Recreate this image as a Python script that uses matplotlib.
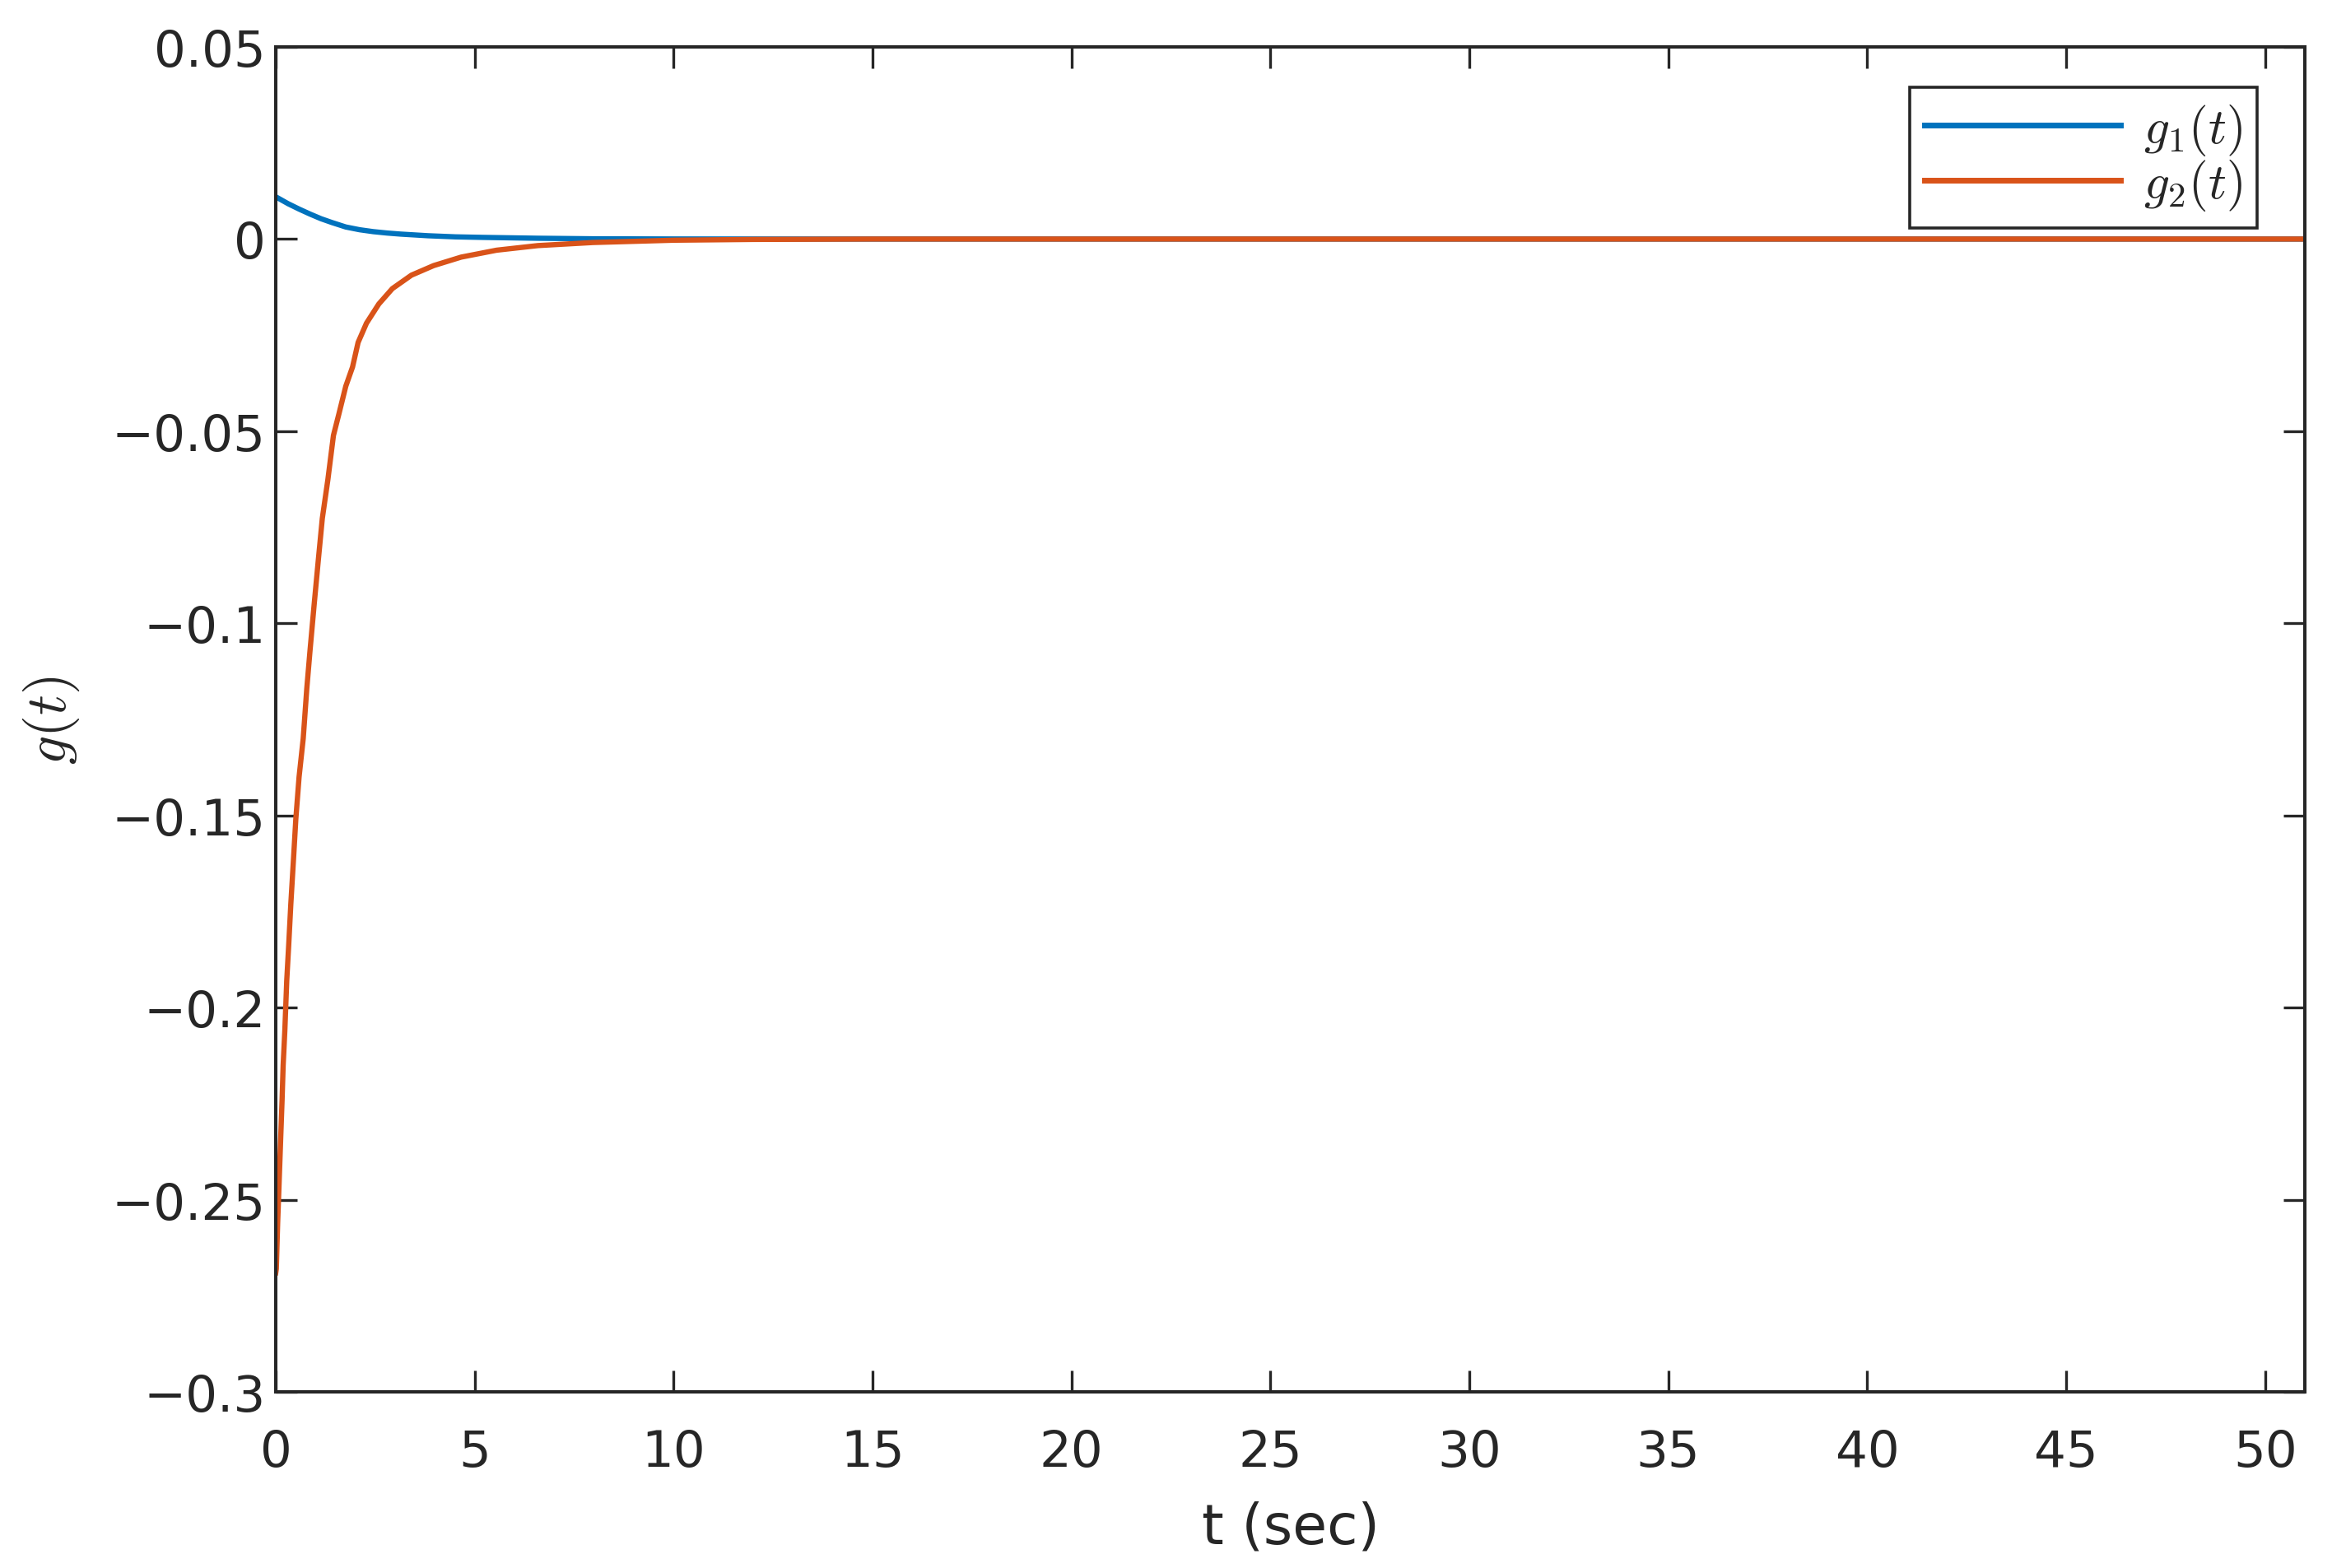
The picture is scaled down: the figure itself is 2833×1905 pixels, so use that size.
import matplotlib
matplotlib.use("Agg")
import matplotlib.pyplot as plt

plt.rcParams['font.family'] = ['DejaVu Sans']
plt.rcParams['mathtext.fontset'] = 'cm'
plt.rcParams['axes.unicode_minus'] = True

# ---- data ----
t_g1 = [0, 0.31, 0.586, 0.862, 1.138, 1.414, 1.759, 2.104, 2.449, 2.794, 3.139,
        3.829, 4.518, 5.208, 6.588, 7.968, 10, 15, 20, 51]
g1 = [0.0110, 0.0092, 0.0078, 0.0065, 0.00529, 0.00429, 0.00314, 0.00243,
      0.00193, 0.00157, 0.00129, 0.00086, 0.00057, 0.00043, 0.00021, 0.00007,
      0.00002, 0.0, 0.0, 0.0]

t_g2 = [0, 0.014, 0.048, 0.083, 0.124, 0.159, 0.186, 0.228, 0.276, 0.324, 0.379,
        0.448, 0.504, 0.586, 0.69, 0.78, 0.862, 0.966, 1.07, 1.17, 1.31, 1.45,
        1.59, 1.76, 1.93, 2.07, 2.28, 2.59, 2.93, 3.41, 3.97, 4.66, 5.55, 6.59,
        7.97, 10, 12, 15, 51]
g2 = [-0.269, -0.268, -0.256, -0.246, -0.234, -0.224, -0.215, -0.206, -0.193,
      -0.184, -0.173, -0.161, -0.151, -0.140, -0.130, -0.117, -0.107, -0.095,
      -0.0835, -0.0727, -0.0626, -0.0511, -0.0454, -0.0383, -0.0333, -0.0269,
      -0.0219, -0.0169, -0.0129, -0.0094, -0.0069, -0.0047, -0.0029, -0.0017,
      -0.0009, -0.0003, -0.0001, 0.0, 0.0]

x_ticks = [0, 5, 10, 15, 20, 25, 30, 35, 40, 45, 50]
y_ticks = [-0.3, -0.25, -0.2, -0.15, -0.1, -0.05, 0, 0.05]
y_tick_labels = ['\u22120.3', '\u22120.25', '\u22120.2', '\u22120.15', '\u22120.1',
                 '\u22120.05', '0', '0.05']
series_labels = [r'$g_1(t)$', r'$g_2(t)$']

# ---- figure ----
W, H = 2833, 1906
fig = plt.figure(figsize=(W / 100, H / 100), dpi=100)
ax = fig.add_axes([335 / W, 1 - 1692 / H, (2800 - 335) / W, (1692 - 58) / H])

axcol = '#262626'
ax.plot(t_g1, g1, color='#0072BD', lw=4.6, label=series_labels[0])
ax.plot(t_g2, g2, color='#D95319', lw=4.6, label=series_labels[1])

ax.set_xlim(0, 51)
ax.set_ylim(-0.3, 0.05)
ax.set_xticks(x_ticks)
ax.set_xticklabels([str(v) for v in x_ticks])
ax.set_yticks(y_ticks)
ax.set_yticklabels(y_tick_labels)

for s in ax.spines.values():
    s.set_color(axcol)
    s.set_linewidth(2.9)

ax.tick_params(axis='both', direction='in', length=19, width=2.4, colors=axcol,
               labelsize=44, top=True, right=True)
ax.tick_params(axis='x', pad=32)
ax.tick_params(axis='y', pad=9)

ax.set_xlabel('t (sec)', fontsize=49, color=axcol, labelpad=20)
ax.set_ylabel(r'$g(t)$', fontsize=50, color=axcol, labelpad=26)

leg = ax.legend(loc='upper right', fontsize=44, frameon=True, fancybox=False,
                framealpha=1.0, handlelength=3.9, handletextpad=0.45,
                borderpad=0.3, labelspacing=0.0, borderaxespad=0.0,
                bbox_to_anchor=(2742 / W, 1 - 107 / H), bbox_transform=fig.transFigure)
leg.get_frame().set_edgecolor(axcol)
leg.get_frame().set_linewidth(2.6)
for line in leg.get_lines():
    line.set_linewidth(5.0)
for txt in leg.get_texts():
    txt.set_color(axcol)

fig.savefig('out.png', dpi=100, facecolor='white')
